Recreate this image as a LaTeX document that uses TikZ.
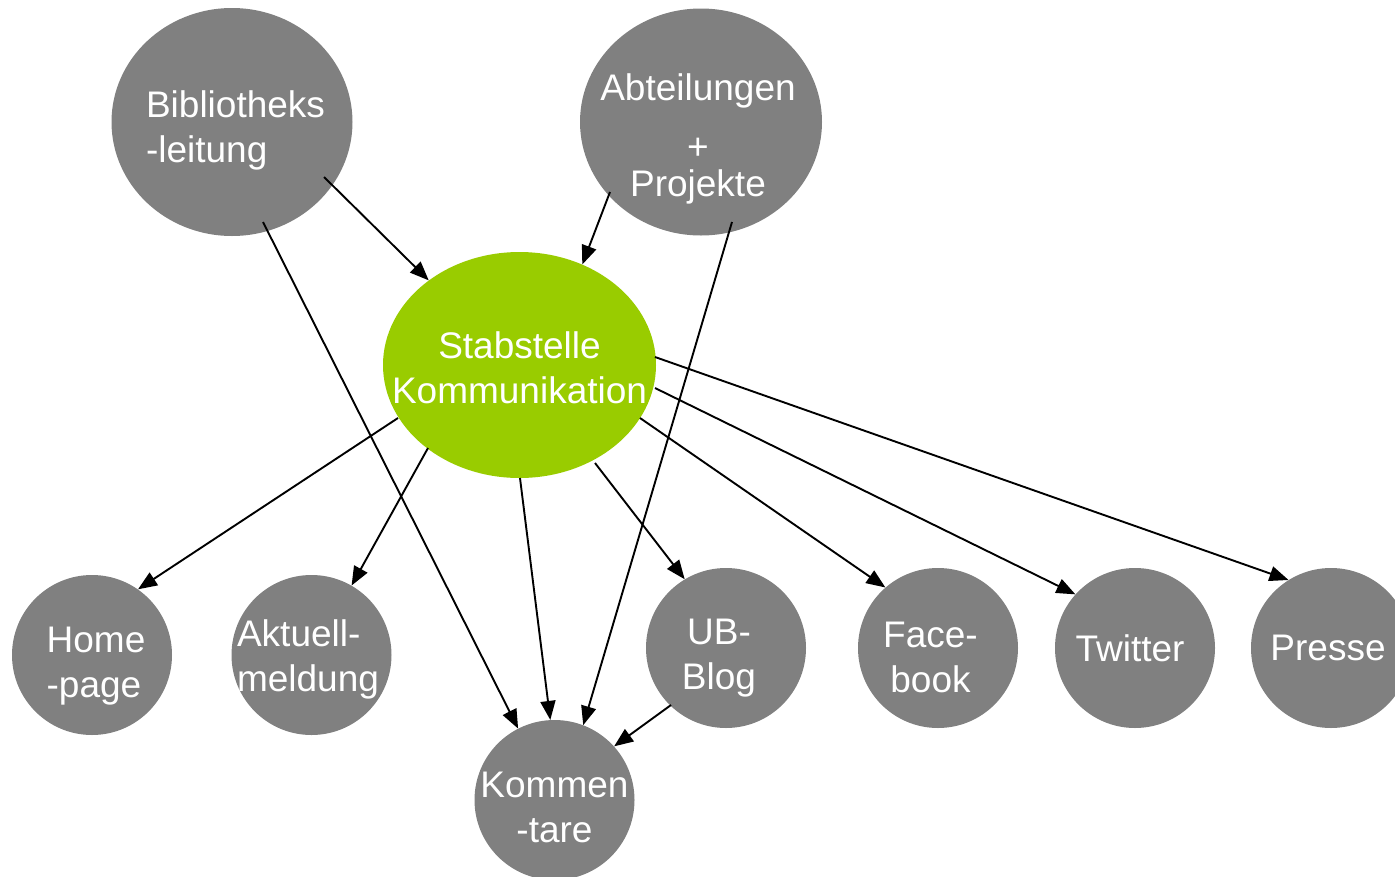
\documentclass[tikz,border=0pt]{standalone}
\usepackage{fontspec}
\setmainfont{Liberation Sans}
\usetikzlibrary{arrows.meta,shapes.geometric}

\begin{document}
\begin{tikzpicture}[x=1pt,y=1pt,yscale=-1,xscale=1,
  bubble/.style={ellipse, draw=none, fill={rgb, 255:red, 128; green, 128; blue, 128}, minimum width=160pt, minimum height=160pt, inner sep=0pt},
  hub/.style={bubble, fill={rgb, 255:red, 153; green, 204; blue, 0}},
  bubbletext/.style={text=white, font=\fontsize{37}{45}\selectfont, inner sep=0pt, align=center},
  link/.style={-{Triangle[length=19pt,width=15pt]}, line width=1.9pt, color=black}]
\useasboundingbox (0,0) rectangle (1395,876);

%Shape: Ellipse [id:bibleitung]
\node [bubble, minimum width=241pt, minimum height=228pt, label={[bubbletext, align=left, xshift=3.5pt, yshift=-8pt]center:Bibliotheks\\-leitung}] (bib) at (232,122) {};
%Shape: Ellipse [id:abteilungen]
\node [bubble, minimum width=242pt, minimum height=227pt, label={[bubbletext, xshift=-3pt, yshift=-17pt]center:Abteilungen\\[14pt]+\\[-8pt]Projekte}] (abt) at (701,122) {};
%Shape: Ellipse [id:stabstelle]
\node [hub, minimum width=273pt, minimum height=226pt, label={[bubbletext, yshift=-2.5pt]center:Stabstelle\\Kommunikation}] (stab) at (519.5,365) {};

%Shape: Circle [id:homepage]
\node [bubble, label={[bubbletext, align=left, xshift=4pt, yshift=-11pt]center:Home\\-page}] (home) at (92,655) {};
%Shape: Circle [id:aktuell]
\node [bubble, label={[bubbletext, align=left, xshift=-3.5pt, yshift=-4pt]center:Aktuell-\\meldung}] (akt) at (311.5,655) {};
%Shape: Circle [id:ubblog]
\node [bubble, label={[bubbletext, xshift=-7pt, yshift=-10pt]center:UB-\\Blog}] (ub) at (726,648) {};
%Shape: Circle [id:facebook]
\node [bubble, label={[bubbletext, xshift=-7.5pt, yshift=-9pt]center:Face-\\book}] (face) at (938,648) {};
%Shape: Circle [id:twitter]
\node [bubble, label={[bubbletext, xshift=-5pt]center:Twitter}] (tw) at (1135,648) {};
%Shape: Circle [id:presse]
\node [bubble, label={[bubbletext, xshift=-3pt]center:Presse}] (pr) at (1331,648) {};
%Shape: Circle [id:kommentare]
\node [bubble, label={[bubbletext, yshift=-7pt]center:Kommen\\-tare}] (kom) at (554.5,800) {};

%Straight Lines [id:bib-stab]
\draw [link] (bib.center) ++(92,55) -- (stab.137) ;
%Straight Lines [id:bib-kom]
\draw [link] (bib.center) ++(31,100) -- (kom.117) ;
%Straight Lines [id:abt-stab]
\draw [link] (abt.center) ++(-91,70) -- (stab.58) ;
%Straight Lines [id:abt-kom]
\draw [link] (abt.center) ++(31,100) -- (kom.69) ;
%Straight Lines [id:stab-home]
\draw [link] (stab.center) ++(-121.5,53) -- (home.55) ;
%Straight Lines [id:stab-akt]
\draw [link] (stab.center) ++(-91.5,83) -- (akt.60) ;
%Straight Lines [id:stab-kom]
\draw [link] (stab.center) ++(0.5,113) -- (kom.93) ;
%Straight Lines [id:stab-ub]
\draw [link] (stab.center) ++(75.5,98) -- (ub.121.5) ;
%Straight Lines [id:stab-face]
\draw [link] (stab.center) ++(120.5,53) -- (face.131.5) ;
%Straight Lines [id:stab-tw]
\draw [link] (stab.center) ++(135.5,23) -- (tw.138) ;
%Straight Lines [id:stab-pr]
\draw [link] (stab.center) ++(135.5,-8) -- (pr.122) ;
%Straight Lines [id:ub-kom]
\draw [link] (ub.center) ++(-55,57) -- (kom.42) ;

\end{tikzpicture}
\end{document}
